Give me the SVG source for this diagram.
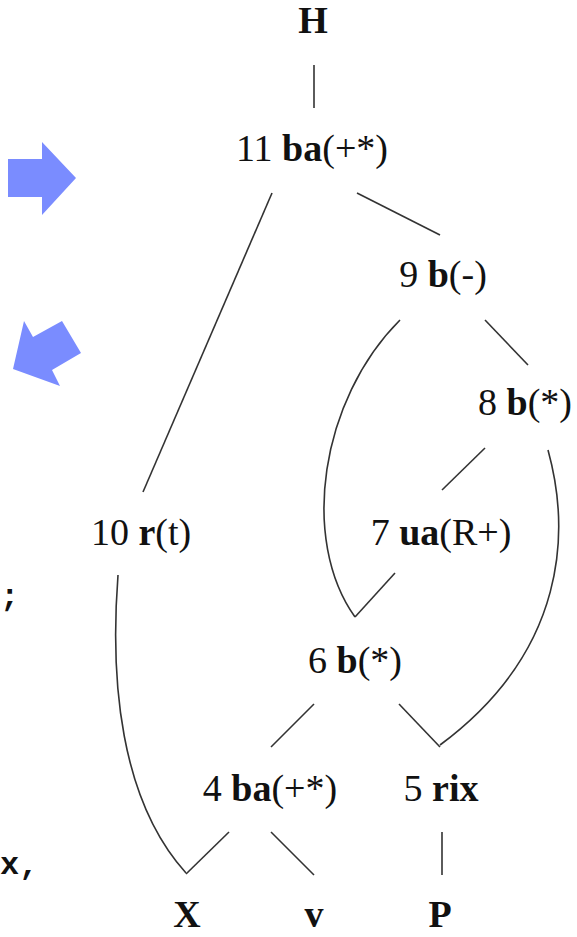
<svg xmlns="http://www.w3.org/2000/svg" width="577" height="937" viewBox="0 0 577 937">
<style>
text{font-family:"Liberation Serif","DejaVu Serif",serif;font-size:38px;fill:#111;text-anchor:middle}
.b{font-weight:bold}
.mono{font-family:"Liberation Mono","DejaVu Sans Mono",monospace;font-weight:bold;font-size:32px;text-anchor:start}
.e{fill:none;stroke:#333;stroke-width:1.6}
.arrow{fill:#7a8cff}
</style>
<polygon class="arrow" points="8,159 42,159 42,142 76,178 42,215 42,197 8,197"/>
<polygon class="arrow" points="13,369 24,321 33,337 62,321 81,353 52,370 60,386"/>
<text class="mono" x="0" y="606">;</text>
<text class="mono" x="0" y="874">x,</text>
<g id="edges">
<line class="e" x1="314" y1="65" x2="314" y2="108"/>
<line class="e" x1="272" y1="193" x2="143" y2="492"/>
<line class="e" x1="357" y1="193" x2="440" y2="235"/>
<line class="e" x1="485" y1="320" x2="528" y2="365"/>
<path class="e" d="M400,320 C320,400 300,540 355,617"/>
<line class="e" x1="395" y1="573" x2="355" y2="617"/>
<line class="e" x1="485" y1="448" x2="442" y2="490"/>
<path class="e" d="M548,450 C570,530 568,650 440,745"/>
<line class="e" x1="399" y1="704" x2="440" y2="747"/>
<line class="e" x1="314" y1="704" x2="271" y2="747"/>
<path class="e" d="M118,575 C110,680 120,800 186,873"/>
<line class="e" x1="229" y1="832" x2="186" y2="874"/>
<line class="e" x1="271" y1="832" x2="314" y2="875"/>
<line class="e" x1="442" y1="832" x2="442" y2="875"/>
</g>
<g id="nH"><text class="b" x="313" y="33">H</text></g>
<g id="n11"><text x="312" y="161">11 <tspan class="b">ba</tspan>(+*)</text></g>
<g id="n9"><text x="443" y="287">9 <tspan class="b">b</tspan>(-)</text></g>
<g id="n8"><text x="525" y="415">8 <tspan class="b">b</tspan>(*)</text></g>
<g id="n10"><text x="141" y="545">10 <tspan class="b">r</tspan>(t)</text></g>
<g id="n7"><text x="441" y="545">7 <tspan class="b">ua</tspan>(R+)</text></g>
<g id="n6"><text x="355" y="673">6 <tspan class="b">b</tspan>(*)</text></g>
<g id="n4"><text x="270" y="801">4 <tspan class="b">ba</tspan>(+*)</text></g>
<g id="n5"><text x="441" y="801">5 <tspan class="b">rix</tspan></text></g>
<g id="nX"><text class="b" x="187" y="927">X</text></g>
<g id="nv"><text class="b" x="314" y="927">v</text></g>
<g id="nP"><text class="b" x="440" y="927">P</text></g>
</svg>
